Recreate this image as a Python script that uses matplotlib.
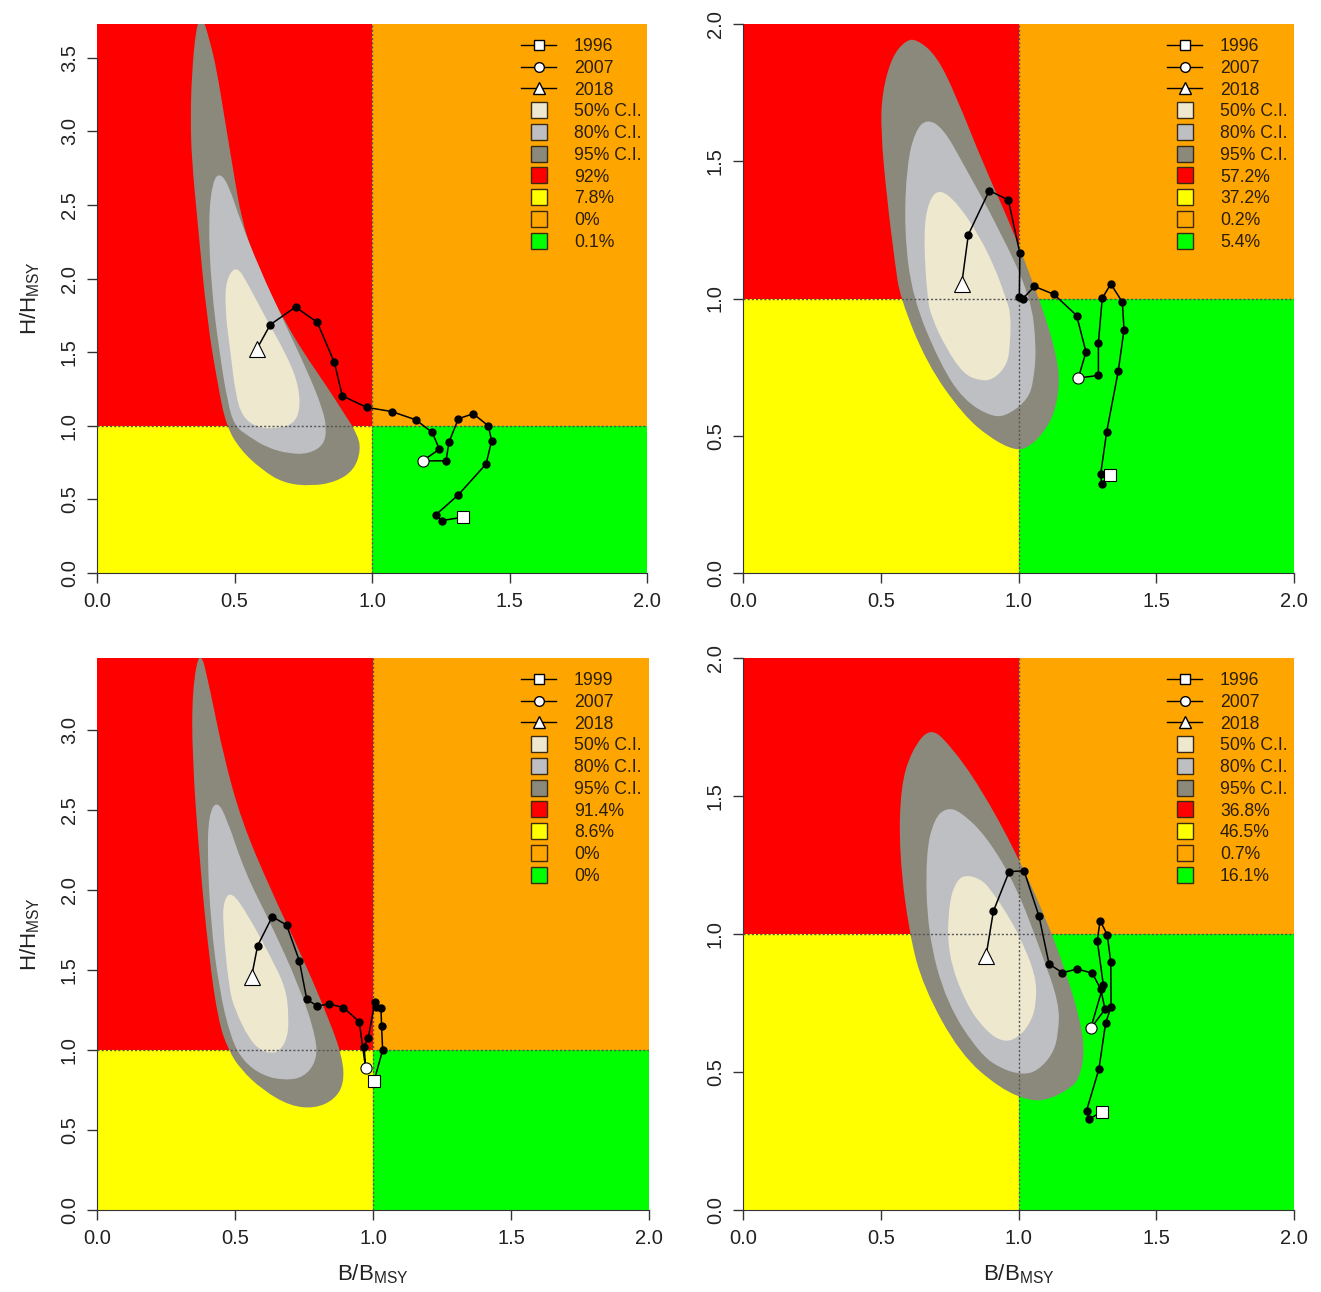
import matplotlib
matplotlib.use("Agg")
import matplotlib.pyplot as plt
from matplotlib.lines import Line2D
from matplotlib.patches import PathPatch, Rectangle
from matplotlib.path import Path

plt.rcParams["font.family"] = ["Liberation Sans", "DejaVu Sans"]
plt.rcParams["mathtext.fontset"] = "custom"
plt.rcParams["mathtext.rm"] = "Liberation Sans"

# ---- data ----------------------------------------------------------------
# trajectories (first year = square, 2007 = circle, last year = triangle)
p1_x = [1.330, 1.253, 1.232, 1.314, 1.415, 1.435, 1.423, 1.368, 1.314, 1.280, 1.269, 1.184,
        1.245, 1.219, 1.159, 1.072, 0.981, 0.892, 0.863, 0.801, 0.722, 0.630, 0.581]
p1_y = [0.379, 0.356, 0.395, 0.531, 0.741, 0.898, 1.000, 1.082, 1.048, 0.889, 0.762, 0.762,
        0.841, 0.955, 1.041, 1.097, 1.125, 1.204, 1.431, 1.703, 1.807, 1.687, 1.521]
p2_x = [1.332, 1.302, 1.298, 1.320, 1.362, 1.383, 1.377, 1.335, 1.304, 1.290, 1.290, 1.217,
        1.245, 1.211, 1.129, 1.058, 1.015, 1.003, 1.005, 0.963, 0.894, 0.818, 0.794]
p2_y = [0.356, 0.326, 0.359, 0.514, 0.735, 0.886, 0.987, 1.053, 1.001, 0.838, 0.720, 0.710,
        0.805, 0.938, 1.015, 1.044, 0.999, 1.005, 1.165, 1.359, 1.393, 1.233, 1.053]
p3_x = [1.004, 1.035, 1.031, 1.029, 1.010, 1.007, 0.983, 0.968, 0.973, 0.950, 0.893, 0.842,
        0.798, 0.760, 0.733, 0.687, 0.635, 0.582, 0.560]
p3_y = [0.806, 1.000, 1.152, 1.260, 1.271, 1.302, 1.077, 1.021, 0.890, 1.177, 1.265, 1.288,
        1.275, 1.317, 1.558, 1.781, 1.833, 1.652, 1.458]
p4_x = [1.302, 1.256, 1.247, 1.292, 1.316, 1.336, 1.335, 1.322, 1.296, 1.286, 1.308, 1.262,
        1.314, 1.299, 1.268, 1.214, 1.159, 1.111, 1.074, 1.020, 0.966, 0.909, 0.882]
p4_y = [0.356, 0.329, 0.360, 0.511, 0.676, 0.737, 0.897, 0.998, 1.048, 0.976, 0.815, 0.658,
        0.727, 0.799, 0.858, 0.873, 0.860, 0.891, 1.066, 1.229, 1.226, 1.083, 0.920]
circle_idx = [11, 11, 8, 11]

# confidence region outlines (B/Bmsy, H/Hmsy)
p1_ci95 = [(0.38, 3.80), (0.41, 3.62), (0.435, 3.42), (0.465, 3.08), (0.495, 2.74), (0.526, 2.40),
           (0.57, 2.15), (0.617, 1.95), (0.68, 1.72), (0.75, 1.50), (0.835, 1.27), (0.90, 1.08),
           (0.945, 0.95), (0.96, 0.84), (0.935, 0.70), (0.87, 0.62), (0.78, 0.59), (0.68, 0.61),
           (0.60, 0.70), (0.52, 0.84), (0.47, 1.0), (0.44, 1.27), (0.40, 1.72), (0.365, 2.40),
           (0.345, 2.8), (0.34, 3.08), (0.345, 3.4), (0.36, 3.7)]
p1_ci80 = [(0.447, 2.72), (0.48, 2.63), (0.52, 2.40), (0.593, 2.06), (0.677, 1.72), (0.763, 1.38),
           (0.82, 1.12), (0.835, 0.98), (0.825, 0.87), (0.77, 0.81), (0.70, 0.81), (0.62, 0.85),
           (0.55, 0.93), (0.50, 1.0), (0.475, 1.16), (0.445, 1.50), (0.415, 1.95), (0.405, 2.40),
           (0.42, 2.66)]
p1_ci50 = [(0.508, 2.09), (0.55, 1.96), (0.617, 1.72), (0.684, 1.50), (0.73, 1.30), (0.74, 1.12),
           (0.715, 1.01), (0.65, 0.98), (0.58, 0.99), (0.53, 1.06), (0.505, 1.20), (0.485, 1.50),
           (0.465, 1.80), (0.47, 2.0)]
p2_ci95 = [(0.630, 1.945), (0.703, 1.885), (0.776, 1.732), (0.872, 1.49), (0.981, 1.247),
           (1.054, 1.053), (1.102, 0.92), (1.139, 0.787), (1.15, 0.69), (1.13, 0.58),
           (1.09, 0.51), (1.04, 0.46), (0.99, 0.445), (0.90, 0.49), (0.80, 0.575), (0.667, 0.763),
           (0.570, 1.004), (0.552, 1.126), (0.522, 1.368), (0.50, 1.611), (0.505, 1.75),
           (0.54, 1.88), (0.59, 1.94)]
p2_ci80 = [(0.667, 1.655), (0.727, 1.62), (0.80, 1.49), (0.933, 1.247), (1.045, 1.004),
           (1.065, 0.823), (1.055, 0.70), (1.035, 0.635), (0.97, 0.58), (0.909, 0.565), (0.80, 0.63),
           (0.715, 0.763), (0.615, 1.004), (0.585, 1.247), (0.595, 1.49), (0.625, 1.61)]
p2_ci50 = [(0.715, 1.40), (0.78, 1.345), (0.85, 1.24), (0.909, 1.126), (0.955, 1.0), (0.972, 0.944),
           (0.97, 0.84), (0.96, 0.76), (0.91, 0.705), (0.860, 0.70), (0.80, 0.725),
           (0.735, 0.823), (0.685, 0.93), (0.668, 1.004), (0.655, 1.247), (0.675, 1.36)]
p3_ci95 = [(0.373, 3.52), (0.409, 3.26), (0.458, 2.84), (0.524, 2.43), (0.627, 2.01), (0.742, 1.59),
           (0.844, 1.177), (0.89, 0.95), (0.895, 0.79), (0.86, 0.69), (0.79, 0.635), (0.70, 0.65),
           (0.60, 0.75), (0.52, 0.88), (0.476, 1.0), (0.44, 1.177), (0.405, 1.59), (0.37, 2.22),
           (0.345, 2.84), (0.345, 3.25)]
p3_ci80 = [(0.434, 2.56), (0.47, 2.45), (0.536, 2.11), (0.627, 1.80), (0.736, 1.386), (0.795, 1.073),
           (0.795, 0.93), (0.75, 0.83), (0.68, 0.81), (0.60, 0.84), (0.53, 0.93), (0.485, 1.073),
           (0.442, 1.386), (0.412, 1.80), (0.40, 2.22), (0.405, 2.47)]
p3_ci50 = [(0.488, 1.99), (0.545, 1.85), (0.627, 1.59), (0.685, 1.386), (0.695, 1.2), (0.69, 1.073),
           (0.66, 0.99), (0.627, 0.98), (0.59, 1.0), (0.55, 1.073), (0.50, 1.25), (0.478, 1.386),
           (0.455, 1.80), (0.46, 1.94)]
p4_ci95 = [(0.679, 1.75), (0.751, 1.685), (0.860, 1.534), (0.993, 1.292), (1.102, 1.051),
           (1.169, 0.870), (1.225, 0.688), (1.24, 0.568), (1.22, 0.475), (1.187, 0.44),
           (1.11, 0.40), (1.042, 0.395), (0.933, 0.44), (0.788, 0.565), (0.654, 0.809),
           (0.603, 1.003), (0.567, 1.292), (0.572, 1.534), (0.612, 1.665)]
p4_ci80 = [(0.739, 1.457), (0.788, 1.445), (0.885, 1.353), (0.993, 1.171), (1.084, 0.930),
           (1.148, 0.749), (1.145, 0.64), (1.125, 0.565), (1.07, 0.505), (1.017, 0.49),
           (0.94, 0.51), (0.860, 0.565), (0.739, 0.749), (0.67, 1.003), (0.663, 1.292),
           (0.695, 1.42)]
p4_ci50 = [(0.812, 1.215), (0.87, 1.195), (0.909, 1.147), (0.96, 1.07), (1.005, 0.990), (1.063, 0.85),
           (1.065, 0.75), (1.045, 0.68), (1.0, 0.625), (0.945, 0.607), (0.88, 0.65), (0.808, 0.749),
           (0.742, 0.930), (0.747, 1.111), (0.775, 1.195)]

years = [["1996", "2007", "2018"], ["1996", "2007", "2018"],
         ["1999", "2007", "2018"], ["1996", "2007", "2018"]]
# share of final-year draws in red / yellow / orange / green quadrant
quad_pct = [["92%", "7.8%", "0%", "0.1%"], ["57.2%", "37.2%", "0.2%", "5.4%"],
            ["91.4%", "8.6%", "0%", "0%"], ["36.8%", "46.5%", "0.7%", "16.1%"]]
y_max = [3.73, 2.0, 3.45, 2.0]
y_ticks = [[0, 0.5, 1.0, 1.5, 2.0, 2.5, 3.0, 3.5], [0, 0.5, 1.0, 1.5, 2.0],
           [0, 0.5, 1.0, 1.5, 2.0, 2.5, 3.0], [0, 0.5, 1.0, 1.5, 2.0]]
x_ticks = [0, 0.5, 1.0, 1.5, 2.0]

# ---- styling ---------------------------------------------------------------
RED, YEL, ORA, GRN = "#FF0000", "#FFFF00", "#FFA500", "#00FF00"
C50, C80, C95 = "#EEE8CF", "#BEBFC3", "#8B897C"
TXT = "#222222"

trajs = [(p1_x, p1_y), (p2_x, p2_y), (p3_x, p3_y), (p4_x, p4_y)]
cis = [(p1_ci95, p1_ci80, p1_ci50), (p2_ci95, p2_ci80, p2_ci50),
       (p3_ci95, p3_ci80, p3_ci50), (p4_ci95, p4_ci80, p4_ci50)]


def smooth_region(pts, color, z):
    # closed outline drawn as quadratic curves through the edge midpoints
    n = len(pts)
    mids = [((pts[i][0] + pts[(i + 1) % n][0]) / 2, (pts[i][1] + pts[(i + 1) % n][1]) / 2)
            for i in range(n)]
    verts = [mids[-1]]
    codes = [Path.MOVETO]
    for i in range(n):
        verts += [pts[i], mids[i]]
        codes += [Path.CURVE3, Path.CURVE3]
    verts.append(mids[-1])
    codes.append(Path.CLOSEPOLY)
    return PathPatch(Path(verts, codes), fc=color, ec="none", zorder=z)


W, H = 1321, 1292
fig = plt.figure(figsize=(W / 100, H / 100), dpi=100)
fig.patch.set_facecolor("white")

# axes boxes in pixels: left, right, top, bottom
boxes = [(97, 647, 24, 573), (743, 1294, 24, 573),
         (97, 649, 658, 1210), (743, 1294, 658, 1210)]

for k, (l, r, t, b) in enumerate(boxes):
    ax = fig.add_axes([l / W, 1 - b / H, (r - l) / W, (b - t) / H])
    ym = y_max[k]
    ax.set_xlim(0, 2)
    ax.set_ylim(0, ym)

    # quadrants
    ax.add_patch(Rectangle((0, 1), 1, ym - 1, color=RED, lw=0, zorder=0))
    ax.add_patch(Rectangle((1, 1), 1, ym - 1, color=ORA, lw=0, zorder=0))
    ax.add_patch(Rectangle((0, 0), 1, 1, color=YEL, lw=0, zorder=0))
    ax.add_patch(Rectangle((1, 0), 1, 1, color=GRN, lw=0, zorder=0))

    # confidence regions
    c95, c80, c50 = cis[k]
    ax.add_patch(smooth_region(c95, C95, 1))
    ax.add_patch(smooth_region(c80, C80, 2))
    ax.add_patch(smooth_region(c50, C50, 3))

    # reference lines
    ax.axhline(1.0, color="#555555", lw=1.0, ls=(0, (1.5, 1.5)), zorder=4)
    ax.axvline(1.0, color="#555555", lw=1.0, ls=(0, (1.5, 1.5)), zorder=4)

    # trajectory
    tx, ty = trajs[k]
    ci = circle_idx[k]
    ax.plot(tx, ty, color="black", lw=1.1, zorder=5)
    ax.plot(tx[1:-1], ty[1:-1], "o", color="black", ms=5, zorder=6, ls="none")
    ax.plot(tx[0], ty[0], "s", mfc="white", mec="black", mew=0.8, ms=8.5, zorder=7)
    ax.plot(tx[ci], ty[ci], "o", mfc="white", mec="black", mew=0.8, ms=8, zorder=7)
    ax.plot(tx[-1], ty[-1], "^", mfc="white", mec="black", mew=0.8, ms=11, zorder=7)

    # axes
    for s in ("top", "right"):
        ax.spines[s].set_visible(False)
    ax.spines["left"].set_bounds(0, y_ticks[k][-1])
    ax.spines["left"].set_color("#333333")
    ax.spines["bottom"].set_color("#333333")
    ax.set_xticks(x_ticks)
    ax.set_xticklabels([f"{v:.1f}" for v in x_ticks])
    ax.set_yticks(y_ticks[k])
    ax.set_yticklabels([f"{v:.1f}" for v in y_ticks[k]], rotation=90, va="center")
    ax.tick_params(axis="both", direction="out", length=7, width=1, color="#333333",
                   labelsize=14.5, labelcolor=TXT)
    ax.tick_params(axis="x", pad=7)
    ax.tick_params(axis="y", pad=6)

    if k in (0, 2):
        ax.set_ylabel(r"$\mathregular{H/H_{MSY}}$", fontsize=16, color=TXT, labelpad=13)
    if k in (2, 3):
        ax.set_xlabel(r"$\mathregular{B/B_{MSY}}$", fontsize=16, color=TXT, labelpad=10)

    # legend
    handles = [
        Line2D([], [], color="black", lw=1, marker="s", mfc="white", mec="black", ms=7),
        Line2D([], [], color="black", lw=1, marker="o", mfc="white", mec="black", ms=7),
        Line2D([], [], color="black", lw=1, marker="^", mfc="white", mec="black", ms=8),
    ]
    for c in (C50, C80, C95, RED, YEL, ORA, GRN):
        handles.append(Line2D([], [], ls="none", marker="s", mfc=c, mec="#3A2A10",
                              mew=1.0, ms=11))
    labels = years[k] + ["50% C.I.", "80% C.I.", "95% C.I."] + quad_pct[k]
    leg = ax.legend(handles, labels, loc="upper left",
                    bbox_to_anchor=(424 / (r - l), 1 - 14 / (b - t)),
                    frameon=False, fontsize=12.7, handlelength=2.0, handletextpad=1.0,
                    labelspacing=0.27, borderpad=0, borderaxespad=0)
    for txt in leg.get_texts():
        txt.set_color("#2A1E0A")
    leg.set_zorder(10)

fig.savefig("out.png", dpi=100, facecolor="white")
